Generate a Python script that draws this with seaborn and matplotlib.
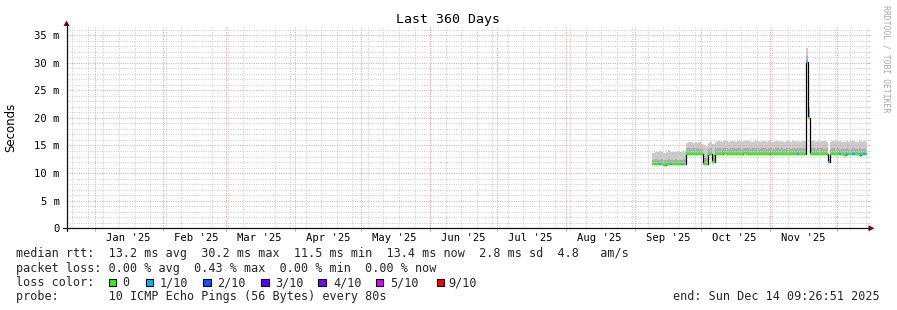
import numpy as np
import pandas as pd
import matplotlib
matplotlib.use("Agg")
import matplotlib.pyplot as plt
import seaborn as sns
from matplotlib.lines import Line2D
from matplotlib.patches import Polygon, Rectangle

# ---------------- data ----------------
title = "Last 360 Days"
end_time = pd.Timestamp("2025-12-14 09:26:51")
span_days = 360
first_bin = pd.Timestamp("2025-09-09")   # daily bins from here to end

median_ms = (
    # Sep 9 - Sep 23
    [11.6, 11.6, 11.7, 11.6, 11.6, 11.5, 11.6, 11.6, 11.7, 11.6, 11.6, 11.6, 11.6, 11.7, 11.6]
    # Sep 24 - Oct 7
    + [13.4, 13.4, 13.4, 13.4, 13.4, 13.4, 13.4, 13.4, 11.6, 11.6, 13.4, 13.4, 12.0, 13.5]
    # Oct 8 - Nov 16
    + [13.5, 13.5, 13.5, 13.6, 13.5, 13.5, 13.5, 13.4, 13.5, 13.5,
       13.5, 13.5, 13.6, 13.5, 13.5, 13.5, 13.5, 13.5, 13.4, 13.5,
       13.5, 13.5, 13.5, 13.5, 13.6, 13.5, 13.5, 13.5, 13.5, 13.5,
       13.5, 13.5, 13.4, 13.5, 13.5, 13.5, 13.5, 13.5, 13.5, 13.5]
    # Nov 17 - Nov 18
    + [30.2, 20.0]
    # Nov 19 - Nov 26
    + [13.5, 13.5, 13.5, 13.4, 13.5, 13.5, 13.5, 13.5]
    # Nov 27
    + [12.1]
    # Nov 28 - Dec 14
    + [13.4, 13.4, 13.4, 13.4, 13.4, 13.4, 13.3, 13.4, 13.4, 13.4,
       13.4, 13.4, 13.4, 13.3, 13.4, 13.4, 13.4]
)

smoke_top_ms = (
    [13.7, 13.9, 13.8, 14.0, 13.9, 13.7, 13.8, 14.1, 13.9, 13.8, 13.9, 14.0, 13.8, 13.9, 14.0]
    + [15.5, 15.7, 15.6, 15.4, 15.6, 15.5, 15.7, 15.3, 15.0, 14.8, 15.5, 15.6, 15.3, 15.7]
    + [15.8, 15.9, 15.7, 16.0, 15.8, 15.7, 15.9, 15.8, 15.7, 15.9,
       15.8, 15.7, 15.9, 15.8, 15.8, 15.6, 15.7, 15.9, 15.8, 15.7,
       15.8, 15.9, 15.7, 15.8, 15.6, 15.7, 15.8, 15.9, 15.7, 15.8,
       15.7, 15.8, 15.9, 15.7, 15.8, 15.6, 15.8, 15.7, 15.9, 15.8]
    + [32.7, 21.9]
    + [15.8, 15.9, 15.7, 15.8, 15.7, 15.9, 15.8, 15.6]
    + [12.6]
    + [15.7, 15.8, 15.9, 15.7, 15.8, 15.6, 15.7, 15.8, 15.7, 15.9,
       15.8, 15.7, 15.6, 15.8, 15.7, 15.8, 15.7]
)

smoke_mid_ms = (
    [12.4, 12.5, 12.3, 12.4, 12.5, 12.4, 12.3, 12.5, 12.4, 12.4, 12.5, 12.3, 12.4, 12.4, 12.5]
    + [14.5, 14.6, 14.4, 14.5, 14.5, 14.6, 14.4, 14.3, 12.8, 12.7, 14.4, 14.5, 13.2, 14.5]
    + [14.5, 14.6, 14.4, 14.6, 14.5, 14.4, 14.5, 14.5, 14.4, 14.6,
       14.5, 14.4, 14.6, 14.5, 14.5, 14.4, 14.5, 14.6, 14.5, 14.4,
       14.5, 14.6, 14.4, 14.5, 14.5, 14.4, 14.5, 14.6, 14.4, 14.5,
       14.4, 14.5, 14.6, 14.4, 14.5, 14.4, 14.5, 14.5, 14.6, 14.5]
    + [31.3, 21.0]
    + [14.5, 14.6, 14.4, 14.5, 14.5, 14.6, 14.4, 14.5]
    + [12.4]
    + [14.4, 14.5, 14.4, 14.5, 14.3, 14.4, 14.4, 14.5, 14.4, 14.3,
       14.5, 14.4, 14.4, 14.5, 14.3, 14.4, 14.4]
)

# packet loss per bin (index into loss_levels)
loss_index = [
    0, 0, 0, 1, 0, 0, 0, 0, 1, 0,
    0, 0, 0, 1, 0, 0, 0, 0, 0, 0,
    0, 0, 0, 0, 0, 0, 0, 0, 0, 0,
    0, 0, 0, 0, 0, 0, 0, 0, 0, 0,
    0, 0, 0, 0, 0, 0, 0, 0, 0, 0,
    0, 0, 0, 0, 0, 0, 0, 0, 0, 0,
    0, 0, 0, 0, 0, 1, 0, 0, 0, 1,
    0, 0, 0, 0, 0, 0, 0, 0, 0, 1,
    0, 0, 0, 0, 1, 0, 0, 1, 0, 0,
    1, 0, 0, 1, 0, 1, 0,
]

loss_levels = ["0", "1/10", "2/10", "3/10", "4/10", "5/10", "9/10"]
loss_colors = ["#26ff00", "#00b8ff", "#0059ff", "#5e00ff", "#7e00ff", "#dd00ff", "#ff0000"]

y_ticks = [0, 5, 10, 15, 20, 25, 30, 35]
y_tick_labels = ["0", "5 m", "10 m", "15 m", "20 m", "25 m", "30 m", "35 m"]
y_max = 36.5

stats_rtt = "median rtt:  13.2 ms avg  30.2 ms max  11.5 ms min  13.4 ms now  2.8 ms sd  4.8   am/s"
stats_loss = "packet loss: 0.00 % avg  0.43 % max  0.00 % min  0.00 % now"
loss_title = "loss color:"
probe_text = "probe:       10 ICMP Echo Pings (56 Bytes) every 80s"
end_text = "end: Sun Dec 14 09:26:51 2025"
watermark = "RRDTOOL / TOBI OETIKER"
y_label = "Seconds"

# ---------------- layout ----------------
W, H = 897, 310
sns.set_theme(style="white")
plt.rcParams["font.family"] = ["DejaVu Sans Mono", "DejaVu Sans"]

fig = plt.figure(figsize=(W / 100, H / 100), dpi=100)
fig.patch.set_facecolor("white")


def fx(px):
    return px / W


def fy(py):
    return 1 - py / H


L, R, T, B = 66.5, 866.5, 26.8, 228.3
ax = fig.add_axes([fx(L), fy(B), (R - L) / W, (B - T) / H])
ax.set_facecolor("white")
for s in ax.spines.values():
    s.set_visible(False)

start_time = end_time - pd.Timedelta(days=span_days)
n = len(median_ms)
bin_starts = pd.date_range(first_bin, periods=n, freq="D")
edges = list(bin_starts) + [end_time]
med_ext = median_ms + [median_ms[-1]]
top_ext = smoke_top_ms + [smoke_top_ms[-1]]
mid_ext = smoke_mid_ms + [smoke_mid_ms[-1]]

# smoke
ax.fill_between(edges, med_ext, top_ext, step="post", color="#cacaca", lw=0, zorder=1)
ax.fill_between(edges, med_ext, mid_ext, step="post", color="#adadad", lw=0, zorder=1.1)

# median (black step line) and loss-coloured band
df = pd.DataFrame({"time": edges, "median": med_ext})
sns.lineplot(data=df, x="time", y="median", drawstyle="steps-post", color="#000000",
             lw=0.9, ax=ax, zorder=3, estimator=None, sort=False)
ax.hlines(median_ms, bin_starts, edges[1:], colors=[loss_colors[i] for i in loss_index],
          lw=1.6, zorder=4)

ax.set_xlim(start_time, end_time)
ax.set_ylim(0, y_max)
ax.set_xlabel("")
ax.set_ylabel("")

# grid
grid_gray = "#cfcfcf"
grid_red = "#f2a3a3"
dots = (0, (1, 1.3))
sundays = pd.date_range(start_time.normalize(), end_time, freq="W-SUN")
month_starts = [m for m in pd.date_range(start_time.normalize(), end_time, freq="MS")
                if start_time <= m <= end_time]
mid_months = [m + pd.Timedelta(days=15) for m in pd.date_range(start_time.normalize(), end_time, freq="MS")
              if start_time <= m + pd.Timedelta(days=15) <= end_time]

ax.set_xticks(mid_months, [m.strftime("%b '%y") for m in mid_months])
ax.set_xticks(list(sundays), minor=True)
ax.set_yticks(y_ticks, y_tick_labels)
ax.set_yticks(np.arange(0, 37, 1), minor=True)

ax.set_axisbelow(False)
ax.grid(which="minor", axis="both", color=grid_gray, ls=dots, lw=0.72, zorder=2.5)
ax.grid(which="major", axis="y", color=grid_red, ls=dots, lw=0.72, zorder=2.6)
ax.grid(which="major", axis="x", visible=False)
for m in month_starts:
    ax.axvline(m, color=grid_red, ls=dots, lw=0.72, zorder=2.6)
    ax.axvline(m, ymin=-0.012, ymax=0, color=grid_red, lw=0.72, clip_on=False)

ax.tick_params(axis="x", which="major", length=0, pad=3.7, labelsize=7.6, labelcolor="black")
ax.tick_params(axis="x", which="minor", length=2.2, width=0.72, color=grid_gray, direction="out")
ax.tick_params(axis="y", which="major", length=2.2, width=0.72, color=grid_red, direction="out",
               pad=2.6, labelsize=7.6, labelcolor="black", right=True, labelright=False)
ax.tick_params(axis="y", which="minor", length=2.2, width=0.72, color=grid_gray, direction="out",
               right=True)

# axis lines with arrows
axis_col = "#101010"
arrow_col = "#7f0000"
fig.add_artist(Line2D([fx(L), fx(L)], [fy(B + 3), fy(24)], color=axis_col, lw=0.9))
fig.add_artist(Line2D([fx(L - 4), fx(R + 2)], [fy(B), fy(B)], color=axis_col, lw=0.9))
fig.add_artist(Polygon([[fx(L - 3), fy(26)], [fx(L + 3), fy(26)], [fx(L), fy(20.5)]],
                       closed=True, color=arrow_col, lw=0))
fig.add_artist(Polygon([[fx(R + 2), fy(B - 3)], [fx(R + 2), fy(B + 3)], [fx(R + 8), fy(B)]],
                       closed=True, color=arrow_col, lw=0))

# texts
fig.text(fx(448), fy(23.5), title, ha="center", va="baseline", fontsize=9.5, color="black")
fig.text(fx(10.8), fy(127.5), y_label, rotation=90, ha="center", va="center",
         fontsize=8.5, family=["DejaVu Sans"], color="black")
fig.text(fx(886), fy(59), watermark, rotation=-90, ha="center", va="center",
         fontsize=5.9, color="#a8a8a8")

fs = 8.5
x0 = 16
fig.text(fx(x0), fy(257.5), stats_rtt, ha="left", va="baseline", fontsize=fs)
fig.text(fx(x0), fy(271.7), stats_loss, ha="left", va="baseline", fontsize=fs)
fig.text(fx(x0), fy(286.0), loss_title, ha="left", va="baseline", fontsize=fs)
fig.text(fx(x0), fy(300.2), probe_text, ha="left", va="baseline", fontsize=fs)
fig.text(fx(880), fy(300.2), end_text, ha="right", va="baseline", fontsize=fs)

box_x = [108.5, 145.7, 203.3, 261.0, 318.3, 375.7, 436.7]
lab_x = [122.5, 159.5, 217.5, 275.5, 333.0, 390.5, 448.0]
for bx, lx, c, lab in zip(box_x, lab_x, loss_colors, loss_levels):
    fig.add_artist(Rectangle((fx(bx), fy(286.2)), 7.6 / W, 7.6 / H, facecolor=c,
                             edgecolor="black", lw=0.8))
    fig.text(fx(lx), fy(286.0), lab, ha="left", va="baseline", fontsize=fs)

fig.savefig("out.png", dpi=100, facecolor="white")
